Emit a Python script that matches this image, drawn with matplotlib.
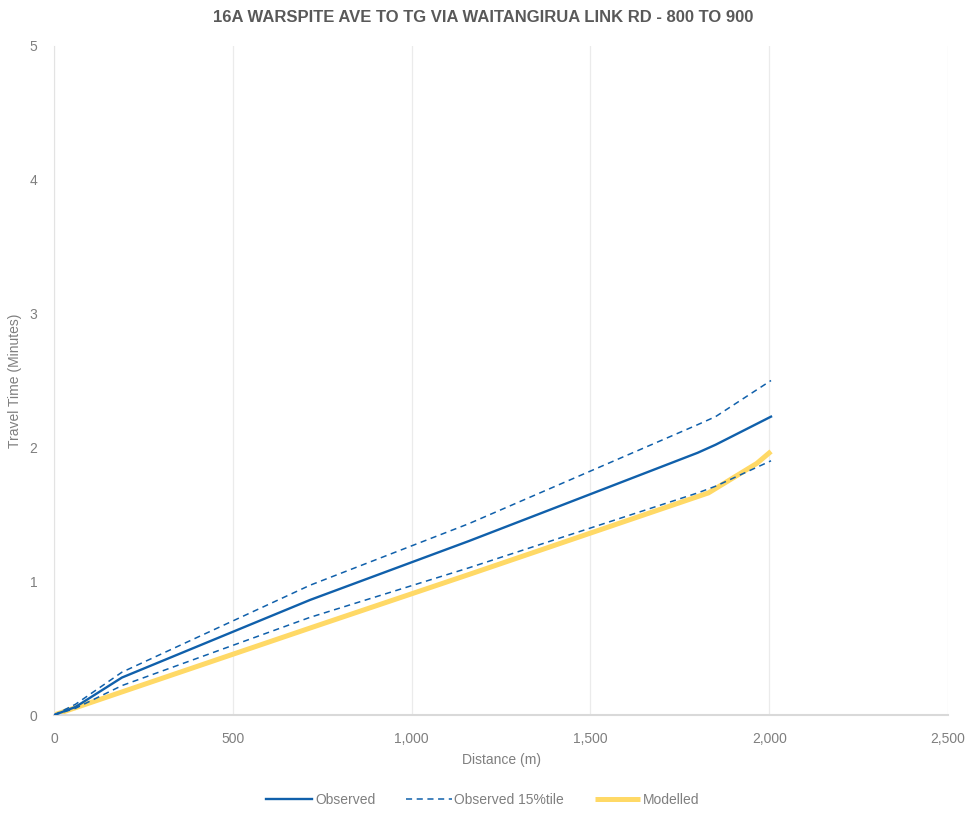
import matplotlib.pyplot as plt
from matplotlib.ticker import FuncFormatter

plt.rcParams['font.family'] = ['Liberation Sans Narrow', 'Liberation Sans', 'DejaVu Sans']

# distance along route (m)
distance = [0, 60, 190, 716, 1160, 1800, 1850, 2005]
observed = [0, 0.06, 0.28, 0.86, 1.30, 1.96, 2.02, 2.23]
obs_15_upper = [0, 0.08, 0.32, 0.97, 1.43, 2.17, 2.23, 2.50]
obs_15_lower = [0, 0.05, 0.22, 0.73, 1.10, 1.66, 1.71, 1.90]

model_distance = [0, 716, 1160, 1830, 1965, 2005]
modelled = [0, 0.65, 1.05, 1.66, 1.88, 1.97]

blue = '#1060AB'
yellow = '#FFD966'
grey = '#595959'
light_grey = '#7F7F7F'

fig = plt.figure(figsize=(9.66, 8.14), dpi=100)
ax = fig.add_axes([0.0559, 0.1216, 0.9255, 0.8219])

ax.plot(distance, observed, color=blue, lw=1.7, label='Observed', zorder=3)
ax.plot(distance, obs_15_upper, color=blue, lw=1.1, ls=(0, (4, 3)), label='Observed 15%tile', zorder=3)
ax.plot(distance, obs_15_lower, color=blue, lw=1.1, ls=(0, (4, 3)), zorder=3)
ax.plot(model_distance, modelled, color=yellow, lw=3.6, label='Modelled', zorder=2,
        solid_capstyle='butt')

ax.set_xlim(0, 2500)
ax.set_ylim(0, 5)
ax.set_xticks(range(0, 2501, 500))
ax.set_yticks(range(0, 6))
ax.xaxis.set_major_formatter(FuncFormatter(lambda v, p: f'{int(v):,}'))
ax.grid(True, axis='x', color='#EBEBEB', lw=0.9)
ax.set_axisbelow(True)

for s in ['top', 'right']:
    ax.spines[s].set_visible(False)
ax.spines['left'].set_color('#E3E3E3')
ax.spines['bottom'].set_color('#D9D9D9')
ax.spines['bottom'].set_linewidth(1.5)
ax.tick_params(length=0, colors=light_grey, labelsize=10)
ax.tick_params(axis='x', pad=12)
ax.tick_params(axis='y', pad=12)

ax.set_xlabel('Distance (m)', color=light_grey, fontsize=10, labelpad=5)
ax.set_ylabel('Travel Time (Minutes)', color=light_grey, fontsize=10, labelpad=0)
ax.yaxis.set_label_coords(-0.036, 0.5)
fig.text(0.5, 0.979, '16A WARSPITE AVE TO TG VIA WAITANGIRUA LINK RD - 800 TO 900',
         ha='center', va='center', fontsize=12, fontweight='bold', color=grey)

leg = fig.legend(loc='center', bbox_to_anchor=(0.5, 0.017), ncol=3, frameon=False,
                 fontsize=10, handlelength=3.3, handletextpad=0.2, columnspacing=2.2)
for t in leg.get_texts():
    t.set_color(light_grey)

fig.savefig('out.png', dpi=100)
